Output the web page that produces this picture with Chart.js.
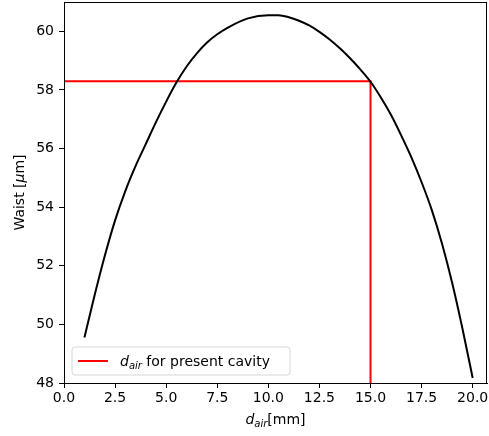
<!DOCTYPE html>
<html>
<head>
<meta charset="utf-8">
<script src="https://cdn.jsdelivr.net/npm/chart.js@4/dist/chart.umd.min.js"></script>
<style>
  html, body { margin: 0; padding: 0; background: #fff; }
  canvas { display: block; }
</style>
</head>
<body>
<canvas id="waistChart" width="489" height="436"></canvas>
<script>
// waist vs air gap (0.5 mm steps)
const dAir = [1, 1.5, 2, 2.5, 3, 3.5, 4, 4.5, 5, 5.5, 6, 6.5, 7, 7.5, 8, 9, 10, 10.5, 11, 11.5, 12, 12.5, 13, 13.5, 14, 14.5, 15, 15.5, 16, 16.5, 17, 17.5, 18, 18.5, 19, 19.5, 20];
const waist = [49.55, 51.0, 52.35, 53.55, 54.55, 55.4, 56.15, 56.9, 57.6, 58.25, 58.8, 59.25, 59.62, 59.9, 60.12, 60.44, 60.55, 60.55, 60.48, 60.36, 60.2, 59.98, 59.72, 59.42, 59.08, 58.7, 58.28, 57.75, 57.15, 56.45, 55.7, 54.85, 53.9, 52.75, 51.4, 49.85, 48.17];

// present cavity marker
const presentX = [0, 15, 15];
const presentY = [58.3, 58.3, 48];

const xTicks = [0, 2.5, 5, 7.5, 10, 12.5, 15, 17.5, 20];
const yTicks = [48, 50, 52, 54, 56, 58, 60];

const FONT = 'DejaVu Sans';

// draw "d_air" with italic subscript, returns end x
function drawDair(ctx, x, y, size) {
  ctx.font = 'italic ' + size + 'px "' + FONT + '"';
  ctx.fillText('d', x, y);
  x += ctx.measureText('d').width;
  const sub = Math.round(size * 0.7);
  ctx.font = 'italic ' + sub + 'px "' + FONT + '"';
  ctx.fillText('air', x, y + size * 0.22);
  x += ctx.measureText('air').width;
  return x;
}

const decorPlugin = {
  id: 'decor',
  afterDraw(chart) {
    const ctx = chart.ctx;
    const a = chart.chartArea;
    ctx.save();
    // frame
    ctx.strokeStyle = '#000';
    ctx.lineWidth = 1;
    ctx.strokeRect(a.left + 0.5, a.top + 0.5, a.right - a.left - 1, a.bottom - a.top);

    ctx.fillStyle = '#000';
    ctx.textBaseline = 'alphabetic';
    ctx.textAlign = 'left';

    // x axis title
    ctx.font = '14px "' + FONT + '"';
    const restW = ctx.measureText('[mm]').width;
    ctx.font = 'italic 14px "' + FONT + '"';
    let w = ctx.measureText('d').width;
    ctx.font = 'italic 10px "' + FONT + '"';
    w += ctx.measureText('air').width;
    let tx = (a.left + a.right) / 2 - (w + restW) / 2;
    tx = drawDair(ctx, tx, 424, 14);
    ctx.font = '14px "' + FONT + '"';
    ctx.fillText('[mm]', tx, 424);

    // y axis title
    ctx.save();
    ctx.translate(24, (a.top + a.bottom) / 2);
    ctx.rotate(-Math.PI / 2);
    ctx.font = '14px "' + FONT + '"';
    const p1 = 'Waist [', p2 = 'μ', p3 = 'm]';
    const w1 = ctx.measureText(p1).width;
    const w3 = ctx.measureText(p3).width;
    ctx.font = 'italic 14px "' + FONT + '"';
    const w2 = ctx.measureText(p2).width;
    let yx = -(w1 + w2 + w3) / 2;
    ctx.font = '14px "' + FONT + '"';
    ctx.fillText(p1, yx, 0);
    yx += w1;
    ctx.font = 'italic 14px "' + FONT + '"';
    ctx.fillText(p2, yx, 0);
    yx += w2;
    ctx.font = '14px "' + FONT + '"';
    ctx.fillText(p3, yx, 0);
    ctx.restore();

    // legend
    const lx = 72, ly = 347, lw = 218, lh = 28, r = 3;
    ctx.beginPath();
    ctx.moveTo(lx + r, ly);
    ctx.arcTo(lx + lw, ly, lx + lw, ly + lh, r);
    ctx.arcTo(lx + lw, ly + lh, lx, ly + lh, r);
    ctx.arcTo(lx, ly + lh, lx, ly, r);
    ctx.arcTo(lx, ly, lx + lw, ly, r);
    ctx.closePath();
    ctx.fillStyle = 'rgba(255,255,255,0.8)';
    ctx.fill();
    ctx.strokeStyle = '#d6d6d6';
    ctx.stroke();

    ctx.strokeStyle = 'red';
    ctx.lineWidth = 2;
    ctx.beginPath();
    ctx.moveTo(78, 361);
    ctx.lineTo(108, 361);
    ctx.stroke();

    ctx.fillStyle = '#000';
    let gx = drawDair(ctx, 120, 366, 14);
    ctx.font = '14px "' + FONT + '"';
    ctx.fillText(' for present cavity', gx, 366);
    ctx.restore();
  }
};

const ctx = document.getElementById('waistChart').getContext('2d');
new Chart(ctx, {
  type: 'scatter',
  data: {
    datasets: [
      {
        label: 'waist',
        data: dAir.map((x, i) => ({ x: x, y: waist[i] })),
        showLine: true,
        borderColor: '#000',
        borderWidth: 2,
        pointRadius: 0,
        cubicInterpolationMode: 'monotone'
      },
      {
        label: 'present cavity',
        data: presentX.map((x, i) => ({ x: x, y: presentY[i] })),
        showLine: true,
        borderColor: 'red',
        borderWidth: 2,
        pointRadius: 0,
        tension: 0
      }
    ]
  },
  options: {
    responsive: false,
    animation: false,
    layout: { padding: { top: 2, right: 2, left: 0, bottom: 0 } },
    plugins: {
      legend: { display: false },
      tooltip: { enabled: false }
    },
    scales: {
      x: {
        type: 'linear',
        min: 0,
        max: 20.7,
        afterFit: axis => {
          axis.height = 53;
          axis.paddingLeft = 0;
          axis.paddingRight = 0;
        },
        afterBuildTicks: axis => { axis.ticks = xTicks.map(v => ({ value: v })); },
        ticks: {
          color: '#000',
          font: { family: FONT, size: 14 },
          padding: 2,
          maxRotation: 0,
          autoSkip: false,
          callback: v => v.toFixed(1)
        },
        grid: { display: true, drawOnChartArea: false, drawTicks: true, tickLength: 5, color: '#000' },
        border: { display: true, color: '#000', width: 1 }
      },
      y: {
        type: 'linear',
        min: 48,
        max: 61,
        afterFit: axis => {
          axis.width = 64;
          axis.paddingTop = 0;
          axis.paddingBottom = 0;
        },
        afterBuildTicks: axis => { axis.ticks = yTicks.map(v => ({ value: v })); },
        ticks: {
          color: '#000',
          font: { family: FONT, size: 14 },
          padding: 5,
          autoSkip: false,
          callback: v => String(v)
        },
        grid: { display: true, drawOnChartArea: false, drawTicks: true, tickLength: 5, color: '#000' },
        border: { display: true, color: '#000', width: 1 }
      }
    }
  },
  plugins: [decorPlugin]
});
</script>
</body>
</html>
